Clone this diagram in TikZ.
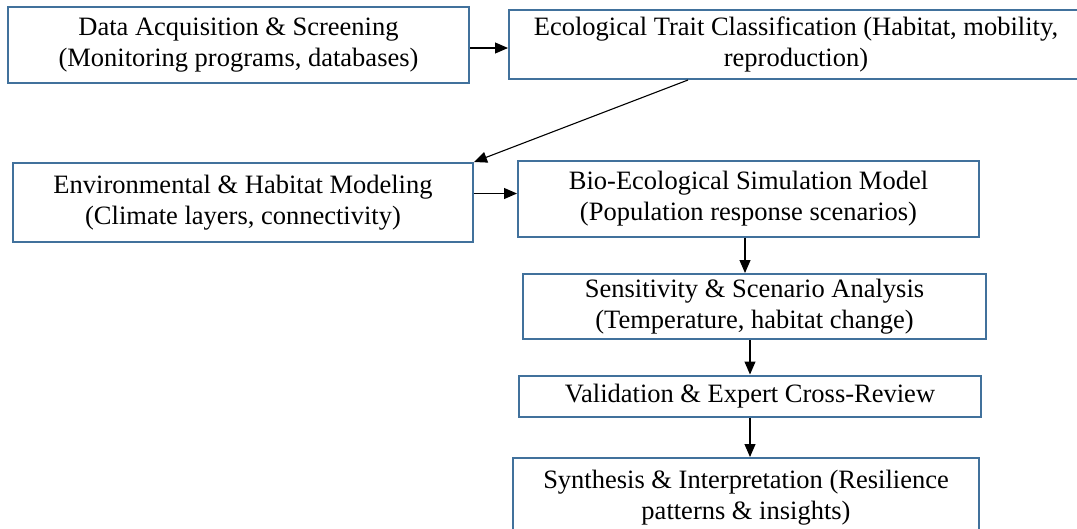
\documentclass[tikz,border=0pt]{standalone}
\usepackage{fontspec}
\setmainfont{Liberation Serif}
\usetikzlibrary{arrows.meta}
\definecolor{boxblue}{RGB}{65,113,156}
\tikzset{stage/.style = {draw=boxblue, line width=2pt, inner sep=0pt, align=center,
                         font=\fontsize{26.5pt}{31pt}\selectfont},
         arr/.style = {line width=1.1pt, -{Triangle[length=13pt,width=11pt]}}}

\begin{document}
\begin{tikzpicture}[x=1pt,y=-1pt]
    \useasboundingbox (0,0) rectangle (1077,528);

        \node[stage, minimum width=461pt, minimum height=76pt] (acq) at (238.5,45)
            {Data Acquisition \& Screening\\(Monitoring programs, databases)};
        \node[stage, minimum width=574pt, minimum height=69pt] (trait) at (796,44.5)
            {Ecological Trait Classification (Habitat, mobility,\\reproduction)};
        \node[stage, minimum width=460pt, minimum height=79pt] (envmod) at (243,202.5)
            {Environmental \& Habitat Modeling\\(Climate layers, connectivity)};
        \node[stage, minimum width=461pt, minimum height=76pt] (biosim) at (748.5,198.7)
            {Bio-Ecological Simulation Model\\(Population response scenarios)};
        \node[stage, minimum width=463pt, minimum height=65pt] (sens) at (754.5,306.5)
            {Sensitivity \& Scenario Analysis\\(Temperature, habitat change)};
        \node[stage, minimum width=462pt, minimum height=41pt] (valid) at (750,396)
            {Validation \& Expert Cross-Review};
        \node[stage, minimum width=466pt, minimum height=80pt] (synth) at (746,498)
            {Synthesis \& Interpretation (Resilience\\patterns \& insights)};

        % arrows between the stages
        \draw[arr] ([yshift=-3pt]acq.east) -- ([yshift=-3pt]acq.east -| trait.west);
        \draw[arr] ([xshift=-108pt]trait.south) -- (envmod.north east);
        \draw[arr] ([yshift=9pt]envmod.east) -- ([yshift=9pt]envmod.east -| biosim.west);
        \draw[arr] ([xshift=-3.5pt]biosim.south) -- ([xshift=-3.5pt]biosim.south |- sens.north);
        \draw[arr] (sens.south -| valid.north) -- (valid.north);
        \draw[arr] (valid.south) -- (valid.south |- synth.north);
\end{tikzpicture}
\end{document}
